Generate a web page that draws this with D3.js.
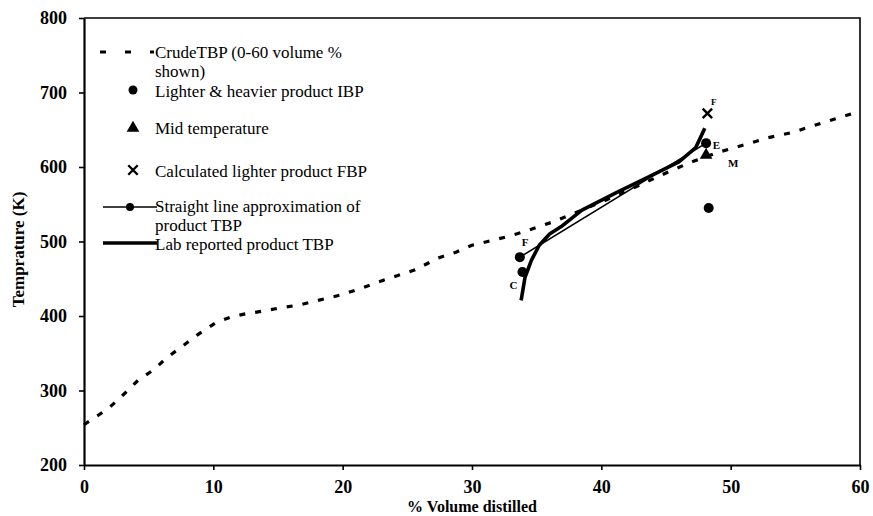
<!DOCTYPE html>
<html>
<head>
<meta charset="utf-8">
<script src="https://cdn.jsdelivr.net/npm/d3@7"></script>
<style>
  html, body { margin: 0; padding: 0; background: #fff; }
  svg { display: block; font-family: "Liberation Serif", "Times New Roman", serif; }
</style>
</head>
<body>
<svg id="chart" width="873" height="516"></svg>
<script>
// crude TBP (dashed)
const crudeVol = [0, 0.5, 1.9, 3.2, 4.2, 5.4, 6.4, 7.5, 8.8, 10.2, 11.4, 12.5, 14, 15.2, 16.7, 18.1, 19.8, 21.4, 22.8, 24.2, 25.6, 27.4, 28.8, 30, 31.2, 32.6, 34, 35, 36.2, 37.5, 40, 42.5, 45, 47, 49.1, 51.5, 52.8, 54.7, 56.5, 57.8, 60];
const crudeTemp = [254, 260, 276, 297, 314, 328, 344, 358, 375, 391, 399, 403, 407, 411, 415, 421, 428, 437, 446, 454, 462, 478, 486, 495, 500, 506, 513, 519, 526, 535, 553, 572, 592, 607, 620, 632, 639, 646, 656, 663, 675];

// lab reported product TBP (thick solid)
const labVol = [33.8, 34.1, 34.6, 35.2, 36.0, 36.9, 38.5, 41.2, 43.7, 46.0, 47.3, 48.0];
const labTemp = [421, 452, 475, 495, 510, 520, 542, 566, 587, 607, 626, 652];

// straight line approximation (thin, circle markers)
const approxVol = [33.7, 48.1];
const approxTemp = [479, 632];

// lighter & heavier product IBP
const ibpVol = [33.7, 33.9, 48.1, 48.3];
const ibpTemp = [479, 459, 632, 545];

// mid temperature
const midVol = [48.1];
const midTemp = [616];

// calculated lighter product FBP
const fbpVol = [48.2];
const fbpTemp = [672];

// point letters
const noteText = ['F', 'C', 'E', 'M', 'F'];
const noteVol = [34.1, 33.2, 48.9, 50.2, 48.7];
const noteTemp = [498, 439, 628, 604, 686];

const xTicks = [0, 10, 20, 30, 40, 50, 60];
const yTicks = [200, 300, 400, 500, 600, 700, 800];

const legendLabels = [
    ['CrudeTBP (0-60 volume %', 'shown)'],
    ['Lighter & heavier product IBP'],
    ['Mid temperature'],
    ['Calculated lighter product FBP'],
    ['Straight line approximation of', 'product TBP'],
    ['Lab reported product TBP'],
];

const width = 873, height = 516;
const margin = { top: 18, right: 13, bottom: 51, left: 84 };
const svg = d3.select('#chart');

const x = d3.scaleLinear().domain([0, 60]).range([margin.left, width - margin.right]);
const y = d3.scaleLinear().domain([200, 800]).range([height - margin.bottom, margin.top]);

const zip = (a, b) => a.map((v, i) => [v, b[i]]);
const line = d3.line().x(d => x(d[0])).y(d => y(d[1]));

// frame top/right
svg.append('path')
    .attr('d', `M${x(0)},${y(800)}H${x(60)}V${y(200)}`)
    .attr('fill', 'none').attr('stroke', '#000').attr('stroke-width', 1.6);

// axes
svg.append('g')
    .attr('transform', `translate(0,${y(200)})`)
    .call(d3.axisBottom(x).tickValues(xTicks).tickSize(5).tickSizeOuter(0).tickPadding(10))
    .call(g => g.select('.domain').attr('stroke-width', 2.2))
    .call(g => g.selectAll('line').attr('stroke-width', 1.6))
    .call(g => g.selectAll('text').attr('font-size', 18).attr('font-weight', 'bold')
        .attr('font-family', 'Liberation Serif').attr('fill', '#000'));

svg.append('g')
    .attr('transform', `translate(${x(0)},0)`)
    .call(d3.axisLeft(y).tickValues(yTicks).tickSize(5).tickSizeOuter(0).tickPadding(12))
    .call(g => g.select('.domain').attr('stroke-width', 2.2))
    .call(g => g.selectAll('line').attr('stroke-width', 1.6))
    .call(g => g.selectAll('text').attr('font-size', 18).attr('font-weight', 'bold')
        .attr('font-family', 'Liberation Serif').attr('fill', '#000'));

// axis titles
svg.append('text')
    .attr('x', x(30)).attr('y', 512)
    .attr('text-anchor', 'middle').attr('font-size', 16).attr('font-weight', 'bold')
    .text('% Volume distilled');

svg.append('text')
    .attr('transform', `translate(24,${(y(800) + y(200)) / 2 + 8}) rotate(-90)`)
    .attr('text-anchor', 'middle').attr('font-size', 17).attr('font-weight', 'bold')
    .text('Temprature (K)');

// series
svg.append('path')
    .datum(zip(crudeVol, crudeTemp))
    .attr('fill', 'none').attr('stroke', '#000').attr('stroke-width', 3.2)
    .attr('stroke-dasharray', '6,10').attr('d', line);

svg.append('path')
    .datum(zip(approxVol, approxTemp))
    .attr('fill', 'none').attr('stroke', '#000').attr('stroke-width', 1.6).attr('d', line);

svg.append('path')
    .datum(zip(labVol, labTemp))
    .attr('fill', 'none').attr('stroke', '#000').attr('stroke-width', 3.6)
    .attr('stroke-linejoin', 'round').attr('d', line);

svg.append('g').selectAll('circle')
    .data(zip(ibpVol, ibpTemp))
    .join('circle')
    .attr('cx', d => x(d[0])).attr('cy', d => y(d[1])).attr('r', 5).attr('fill', '#000');

const tri = d3.symbol().type(d3.symbolTriangle).size(70);
svg.append('g').selectAll('path')
    .data(zip(midVol, midTemp))
    .join('path')
    .attr('transform', d => `translate(${x(d[0])},${y(d[1])})`)
    .attr('d', tri).attr('fill', '#000');

const cross = d3.symbol().type(d3.symbolX).size(60);
svg.append('g').selectAll('path')
    .data(zip(fbpVol, fbpTemp))
    .join('path')
    .attr('transform', d => `translate(${x(d[0])},${y(d[1])})`)
    .attr('d', cross).attr('fill', 'none').attr('stroke', '#000').attr('stroke-width', 2.4);

svg.append('g').selectAll('text')
    .data(noteText)
    .join('text')
    .attr('x', (d, i) => x(noteVol[i])).attr('y', (d, i) => y(noteTemp[i]))
    .attr('font-size', (d, i) => i === 4 ? 9 : 11).attr('font-weight', 'bold')
    .attr('text-anchor', 'middle').attr('dominant-baseline', 'middle')
    .text(d => d);

// legend
const legend = svg.append('g');
const rowY = [52, 90, 128, 170, 207, 243];
const textX = 155;

legend.append('line').attr('x1', 100).attr('x2', 154).attr('y1', rowY[0]).attr('y2', rowY[0])
    .attr('stroke', '#000').attr('stroke-width', 3).attr('stroke-dasharray', '6,19');
legend.append('circle').attr('cx', 133).attr('cy', rowY[1]).attr('r', 4.5).attr('fill', '#000');
legend.append('path').attr('transform', `translate(133,${rowY[2]})`).attr('d', tri).attr('fill', '#000');
legend.append('path').attr('transform', `translate(133,${rowY[3]})`).attr('d', cross)
    .attr('stroke', '#000').attr('stroke-width', 2.4).attr('fill', 'none');
legend.append('line').attr('x1', 103).attr('x2', 157).attr('y1', rowY[4]).attr('y2', rowY[4])
    .attr('stroke', '#000').attr('stroke-width', 1.6);
legend.append('circle').attr('cx', 130).attr('cy', rowY[4]).attr('r', 4).attr('fill', '#000');
legend.append('line').attr('x1', 103).attr('x2', 157).attr('y1', rowY[5]).attr('y2', rowY[5])
    .attr('stroke', '#000').attr('stroke-width', 3.6);

const baselines = [[58, 77], [97], [134], [177], [212, 231], [250]];
legendLabels.forEach((lines, i) => {
    lines.forEach((t, j) => {
        legend.append('text')
            .attr('x', textX).attr('y', baselines[i][j])
            .attr('font-size', 17).attr('fill', '#000')
            .text(t);
    });
});
</script>
</body>
</html>
